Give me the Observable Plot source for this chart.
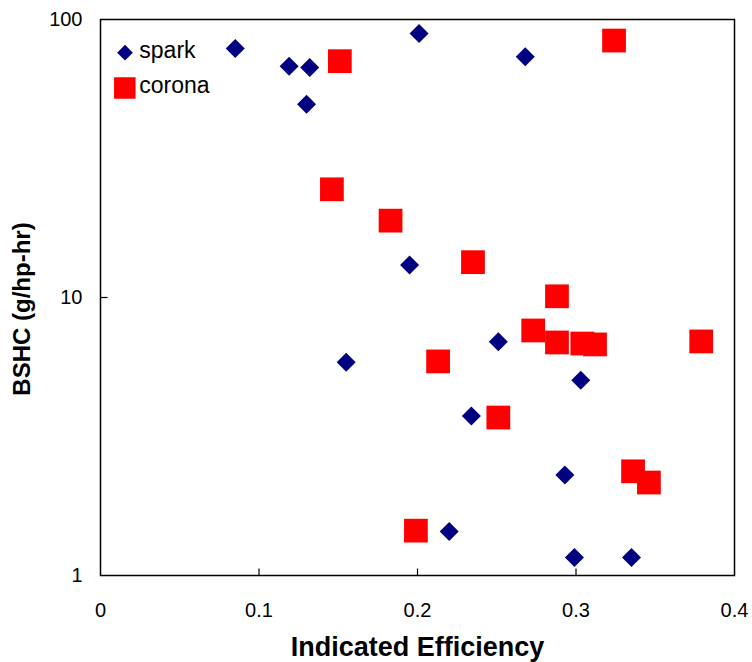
<!DOCTYPE html>
<html><head><meta charset="utf-8">
<script src="https://cdn.jsdelivr.net/npm/d3@7"></script>
<script src="https://cdn.jsdelivr.net/npm/@observablehq/plot@0.6"></script>
<style>
html,body{margin:0;padding:0;background:#fff;}
#wrap{position:relative;width:752px;height:662px;}
</style></head><body>
<div id="wrap"></div>
<script>
// ---- data ----
const sparkEff  = [0.085, 0.119, 0.132, 0.130, 0.201, 0.268, 0.195, 0.155, 0.251, 0.303, 0.234, 0.293, 0.220, 0.299, 0.335];
const sparkBSHC = [78.6, 67.9, 67.2, 49.6, 89.1, 73.4, 13.1, 5.85, 6.93, 5.04, 3.75, 2.30, 1.44, 1.16, 1.16];
const coronaEff  = [0.151, 0.146, 0.324, 0.183, 0.235, 0.288, 0.273, 0.213, 0.288, 0.304, 0.312, 0.379, 0.251, 0.336, 0.346, 0.199];
const coronaBSHC = [70.8, 24.5, 84.0, 18.9, 13.4, 10.1, 7.61, 5.89, 6.89, 6.83, 6.78, 6.95, 3.70, 2.37, 2.16, 1.45];
const seriesNames = ["spark", "corona"];
const seriesColors = ["#000080", "#ff0000"];
const xTicks = [0, 0.1, 0.2, 0.3, 0.4];
const xTickLabels = ["0", "0.1", "0.2", "0.3", "0.4"];
const yTicks = [1, 10, 100];
const yTickLabels = ["1", "10", "100"];
const xLabel = "Indicated Efficiency";
const yLabel = "BSHC (g/hp-hr)";

const spark = sparkEff.map((x, i) => ({x, y: sparkBSHC[i]}));
const corona = coronaEff.map((x, i) => ({x, y: coronaBSHC[i]}));
const font = "'Liberation Sans', Arial, sans-serif";

// tick-mark symbols (inner ticks, 7px)
const tickUp = {draw(ctx) { ctx.moveTo(0, 0); ctx.lineTo(0, -7); }};
const tickRight = {draw(ctx) { ctx.moveTo(0, 0); ctx.lineTo(7, 0); }};

const chart = Plot.plot({
  width: 752, height: 662,
  marginLeft: 100, marginRight: 18, marginTop: 19, marginBottom: 87,
  style: {fontFamily: font, fontSize: "20px", color: "#000", background: "#fff", overflow: "visible"},
  x: {domain: [0, 0.4]},
  y: {type: "log", domain: [1, 100]},
  marks: [
    // tick labels
    Plot.axisX(xTicks, {anchor: "bottom", tickSize: 0, tickPadding: 27, tickFormat: d => xTickLabels[xTicks.indexOf(d)], label: null, fontSize: 20, fill: "#000"}),
    Plot.axisY(yTicks, {anchor: "left", tickSize: 0, tickPadding: 18, tickFormat: d => yTickLabels[yTicks.indexOf(d)], label: null, fontSize: 20, fill: "#000"}),
    // inner tick marks
    Plot.dot(xTicks.slice(1, -1), {x: d => d, y: () => yTicks[0], symbol: tickUp, r: 1, stroke: "#000", strokeWidth: 1.2, fill: "none"}),
    Plot.dot(yTicks.slice(1, -1), {x: () => xTicks[0], y: d => d, symbol: tickRight, r: 1, stroke: "#000", strokeWidth: 1.2, fill: "none"}),
    // axis titles
    Plot.text([xLabel], {frameAnchor: "bottom", dy: 71.5, text: d => d, textAnchor: "middle", lineAnchor: "middle", fontSize: 27, fontWeight: "bold", fill: "#000"}),
    Plot.text([yLabel], {frameAnchor: "left", rotate: -90, dx: -78, dy: 11.5, text: d => d, textAnchor: "middle", lineAnchor: "middle", fontSize: 24, fontWeight: "bold", fill: "#000"}),
    // data
    Plot.dot(spark, {x: "x", y: "y", symbol: "diamond2", r: 8.56, fill: seriesColors[0], stroke: "none"}),
    Plot.dot(corona, {x: "x", y: "y", symbol: "square", r: 13.4, fill: seriesColors[1], stroke: "none"}),
    Plot.frame({stroke: "#000", strokeWidth: 1.5})
  ]
});
document.getElementById("wrap").appendChild(chart);

// ---- legend (inside plot area, top-left) ----
const svg = d3.select(chart);
const lg = svg.append("g").attr("font-family", font).attr("font-size", 23).attr("text-anchor", "start");
const items = [{cy: 52.7, base: 58.3}, {cy: 88, base: 93.3}];
seriesNames.forEach((name, i) => {
  const g = lg.append("g");
  if (i === 0) {
    const h = 7.85, cx = 125, cy = items[i].cy;
    g.append("path").attr("d", `M${cx},${cy - h}L${cx + h},${cy}L${cx},${cy + h}L${cx - h},${cy}Z`).attr("fill", seriesColors[i]);
  } else {
    const s = 21.5, cx = 124.8, cy = items[i].cy;
    g.append("rect").attr("x", cx - s / 2).attr("y", cy - s / 2).attr("width", s).attr("height", s).attr("fill", seriesColors[i]);
  }
  g.append("text").attr("x", 139.3).attr("y", items[i].base).attr("fill", "#000").attr("text-anchor", "start").text(name);
});
</script>
</body></html>
